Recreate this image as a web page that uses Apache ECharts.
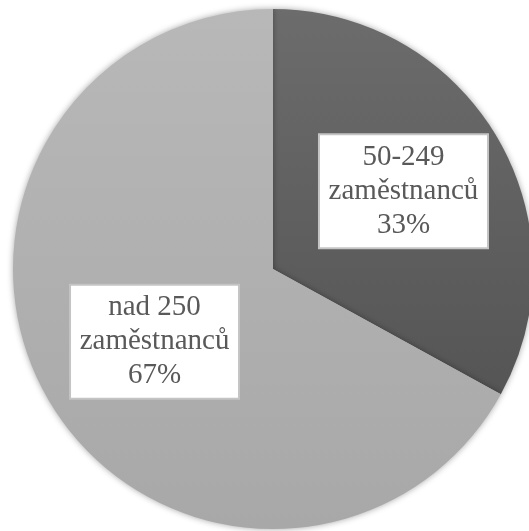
<!DOCTYPE html>
<html>
<head>
<meta charset="utf-8">
<script src="https://cdn.jsdelivr.net/npm/echarts@6/dist/echarts.min.js"></script>
<style>
  html, body { margin: 0; padding: 0; background: #fff; }
  #chart { width: 529px; height: 531px; }
</style>
</head>
<body>
<div id="chart"></div>
<script>
var categories = ['50-249 zaměstnanců', 'nad 250 zaměstnanců'];
var shares = [33, 67];
var sliceColors = [['#6c6c6c', '#555555'], ['#b8b8b8', '#a8a8a8']];
var labelOffsets = [[16, -10], [-4, 5]];

(function () {
    var chart = echarts.init(document.getElementById('chart'));
    var data = categories.map(function (name, i) {
        return {
            name: name,
            value: shares[i],
            itemStyle: {
                color: {
                    type: 'linear', x: 0, y: 0, x2: 0, y2: 1,
                    colorStops: [
                        { offset: 0, color: sliceColors[i][0] },
                        { offset: 1, color: sliceColors[i][1] }
                    ]
                }
            },
            label: { offset: labelOffsets[i] }
        };
    });
    var option = {
        backgroundColor: '#ffffff',
        animation: false,
        series: [
            {
                type: 'pie',
                center: [273, 269],
                radius: 260,
                startAngle: 90,
                clockwise: true,
                percentPrecision: 0,
                itemStyle: {
                    shadowBlur: 6,
                    shadowColor: 'rgba(0,0,0,0.35)'
                },
                label: {
                    position: 'inside',
                    formatter: function (p) {
                        var k = p.name.lastIndexOf(' ');
                        return p.name.slice(0, k) + '\n' + p.name.slice(k + 1) + '\n' + Math.round(p.percent) + '%';
                    },
                    fontFamily: '"Liberation Serif", "Times New Roman", serif',
                    fontSize: 29,
                    lineHeight: 34,
                    color: '#595959',
                    backgroundColor: '#ffffff',
                    borderColor: '#c4c4c4',
                    borderWidth: 2,
                    width: 167,
                    align: 'center',
                    padding: [5, 0, 5, 0]
                },
                labelLine: { show: false },
                data: data
            }
        ]
    };
    chart.setOption(option);
})();
</script>
</body>
</html>
